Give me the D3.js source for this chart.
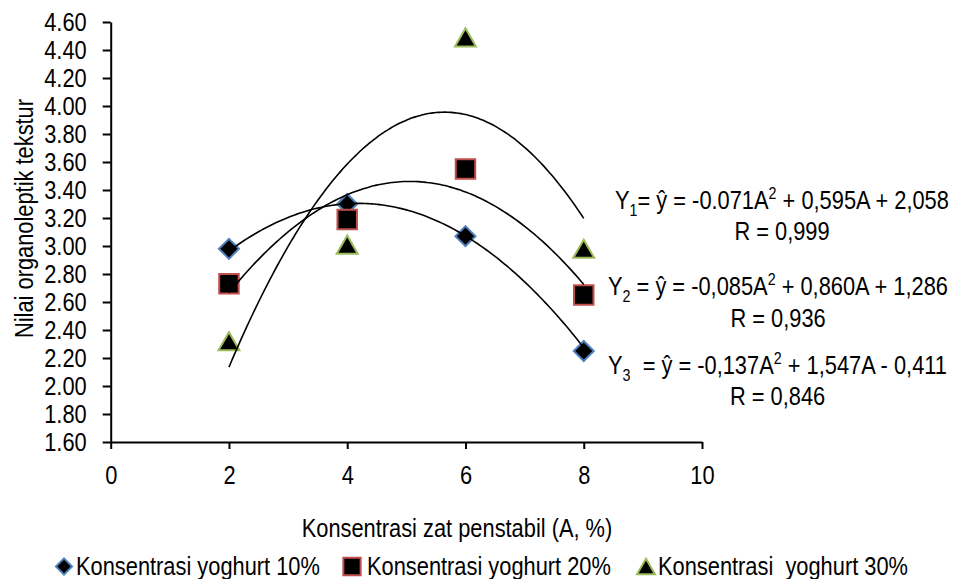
<!DOCTYPE html>
<html>
<head>
<meta charset="utf-8">
<script src="https://cdn.jsdelivr.net/npm/d3@7"></script>
<style>
  html, body { margin: 0; padding: 0; background: #fff; }
  svg { display: block; }
  text { font-family: "Liberation Sans", Arial, sans-serif; fill: #000; }
</style>
</head>
<body>
<svg id="chart" width="954" height="579"></svg>
<script>
// Stabiliser concentration (A, %)
const concentrations = [2, 4, 6, 8];

// Organoleptic texture scores per yoghurt concentration
const yoghurt10 = [2.98, 3.30, 3.07, 2.25];
const yoghurt20 = [2.73, 3.19, 3.55, 2.65];
const yoghurt30 = [2.32, 3.01, 4.49, 2.98];

// Quadratic trendline coefficients [a, b, c] for y = aA^2 + bA + c
const fit10 = [-0.071, 0.595, 2.058];
const fit20 = [-0.085, 0.860, 1.286];
const fit30 = [-0.137, 1.547, -0.411];

const seriesNames = ["Konsentrasi yoghurt 10%", "Konsentrasi yoghurt 20%", "Konsentrasi  yoghurt 30%"];
const yTicks = [1.6, 1.8, 2.0, 2.2, 2.4, 2.6, 2.8, 3.0, 3.2, 3.4, 3.6, 3.8, 4.0, 4.2, 4.4, 4.6];
const xTicks = [0, 2, 4, 6, 8, 10];

const svg = d3.select("#chart");
const FS = 26;
const NARROW = 0.84; // horizontal squeeze to get a narrow face from Liberation Sans

// Condense text horizontally around its own anchor point
function narrow(sel) {
  sel.each(function () {
    const t = d3.select(this);
    const ax = +t.attr("x") || 0;
    const prev = t.attr("transform") || "";
    t.attr("transform", `${prev} translate(${ax},0) scale(${NARROW},1) translate(${-ax},0)`);
  });
  return sel;
}

const x = d3.scaleLinear().domain([0, 10]).range([110.7, 702]);
const y = d3.scaleLinear().domain([1.6, 4.6]).range([442, 22]);

// Axes
const yAxis = d3.axisLeft(y).tickValues(yTicks).tickFormat(d3.format(".2f"))
  .tickSize(8).tickSizeOuter(0).tickPadding(16);
const xAxis = d3.axisBottom(x).tickValues(xTicks).tickFormat(d3.format("d"))
  .tickSize(7).tickSizeOuter(0).tickPadding(17);

const gy = svg.append("g").attr("transform", `translate(${x(0)},0)`).call(yAxis);
const gx = svg.append("g").attr("transform", `translate(0,${y(1.6)})`).call(xAxis);
[gx, gy].forEach(g => {
  g.selectAll("path.domain").attr("stroke", "#000").attr("stroke-width", 2);
  g.selectAll(".tick line").attr("stroke", "#000").attr("stroke-width", 2);
  const tt = g.selectAll(".tick text").style("font-size", FS + "px").attr("fill", "#000")
    .style("font-family", "'Liberation Sans', Arial, sans-serif");
  narrow(tt);
});

// Axis titles
narrow(svg.append("text")
  .attr("transform", "translate(24,218.5) rotate(-90)")
  .attr("text-anchor", "middle").attr("dy", "0.35em")
  .style("font-size", FS + "px")
  .text("Nilai organoleptik tekstur"));

narrow(svg.append("text")
  .attr("x", 457).attr("y", 537)
  .attr("text-anchor", "middle")
  .style("font-size", FS + "px")
  .text("Konsentrasi zat penstabil (A, %)"));

// Triangle centred on its bounding box
const boxTriangle = {
  draw(ctx, size) {
    const s = Math.sqrt(size * 4 / Math.sqrt(3));
    const h = s * Math.sqrt(3) / 2;
    ctx.moveTo(0, -h / 2);
    ctx.lineTo(s / 2, h / 2);
    ctx.lineTo(-s / 2, h / 2);
    ctx.closePath();
  }
};

// Marker shapes
const markers = [
  { values: yoghurt10, stroke: "#4f81bd", shape: d3.symbolSquare, rotate: 45, size: 200 },
  { values: yoghurt20, stroke: "#c0504d", shape: d3.symbolSquare, rotate: 0, size: 380 },
  { values: yoghurt30, stroke: "#9bbb59", shape: boxTriangle, rotate: 0, size: 190 }
];

markers.forEach(m => {
  svg.append("g").selectAll("path")
    .data(concentrations.map((a, i) => [a, m.values[i]]))
    .join("path")
    .attr("d", d3.symbol().type(m.shape).size(m.size))
    .attr("transform", d => `translate(${x(d[0])},${y(d[1])}) rotate(${m.rotate})`)
    .attr("fill", "#000")
    .attr("stroke", m.stroke)
    .attr("stroke-width", 2);
});

// Quadratic trendlines over the measured range
const quad = c => A => c[0] * A * A + c[1] * A + c[2];
const line = d3.line().x(d => x(d[0])).y(d => y(d[1])).curve(d3.curveBasis);
const samples = d3.range(0, 121).map(i => 2 + i * 0.05);
[fit10, fit20, fit30].forEach(c => {
  const f = quad(c);
  svg.append("path")
    .attr("d", line(samples.map(A => [A, f(A)])))
    .attr("fill", "none")
    .attr("stroke", "#000")
    .attr("stroke-width", 1.6);
});

// Regression equations
const equations = [
  { x: 615, y: 209, ry: 240, sub: "1", gap: "", text: "= ŷ = -0.071A", mid: " + 0,595A + 2,058", r: "R = 0,999" },
  { x: 608, y: 295.5, ry: 327, sub: "2", gap: " ", text: "= ŷ = -0,085A", mid: " + 0,860A + 1,286", r: "R = 0,936" },
  { x: 608, y: 374, ry: 405, sub: "3", gap: "  ", text: "= ŷ = -0,137A", mid: " + 1,547A - 0,411", r: "R = 0,846" }
];

equations.forEach(e => {
  const t = svg.append("text")
    .attr("x", e.x).attr("y", e.y)
    .attr("xml:space", "preserve")
    .style("white-space", "pre")
    .style("font-size", FS + "px");
  t.append("tspan").text("Y");
  t.append("tspan").attr("dy", 7).style("font-size", "17px").text(e.sub);
  t.append("tspan").attr("dy", -7).text(e.gap + e.text);
  t.append("tspan").attr("dy", -10).style("font-size", "17px").text("2");
  t.append("tspan").attr("dy", 10).text(e.mid);
  const bb = t.node().getBBox();
  narrow(t);
  const cx = e.x + (bb.x + bb.width / 2 - e.x) * NARROW;
  narrow(svg.append("text")
    .attr("x", cx).attr("y", e.ry)
    .attr("text-anchor", "middle")
    .style("font-size", FS + "px")
    .text(e.r));
});

// Legend
const legendX = [64, 352, 646];
const legendTextX = [76, 367, 658];
const legendSizes = [130, 300, 140];
markers.forEach((m, i) => {
  svg.append("path")
    .attr("d", d3.symbol().type(m.shape).size(legendSizes[i]))
    .attr("transform", `translate(${legendX[i]},566.5) rotate(${m.rotate})`)
    .attr("fill", "#000")
    .attr("stroke", m.stroke)
    .attr("stroke-width", 2);
  narrow(svg.append("text")
    .attr("x", legendTextX[i]).attr("y", 575.5)
    .attr("xml:space", "preserve")
    .style("white-space", "pre")
    .style("font-size", FS + "px")
    .text(seriesNames[i]));
});
</script>
</body>
</html>
